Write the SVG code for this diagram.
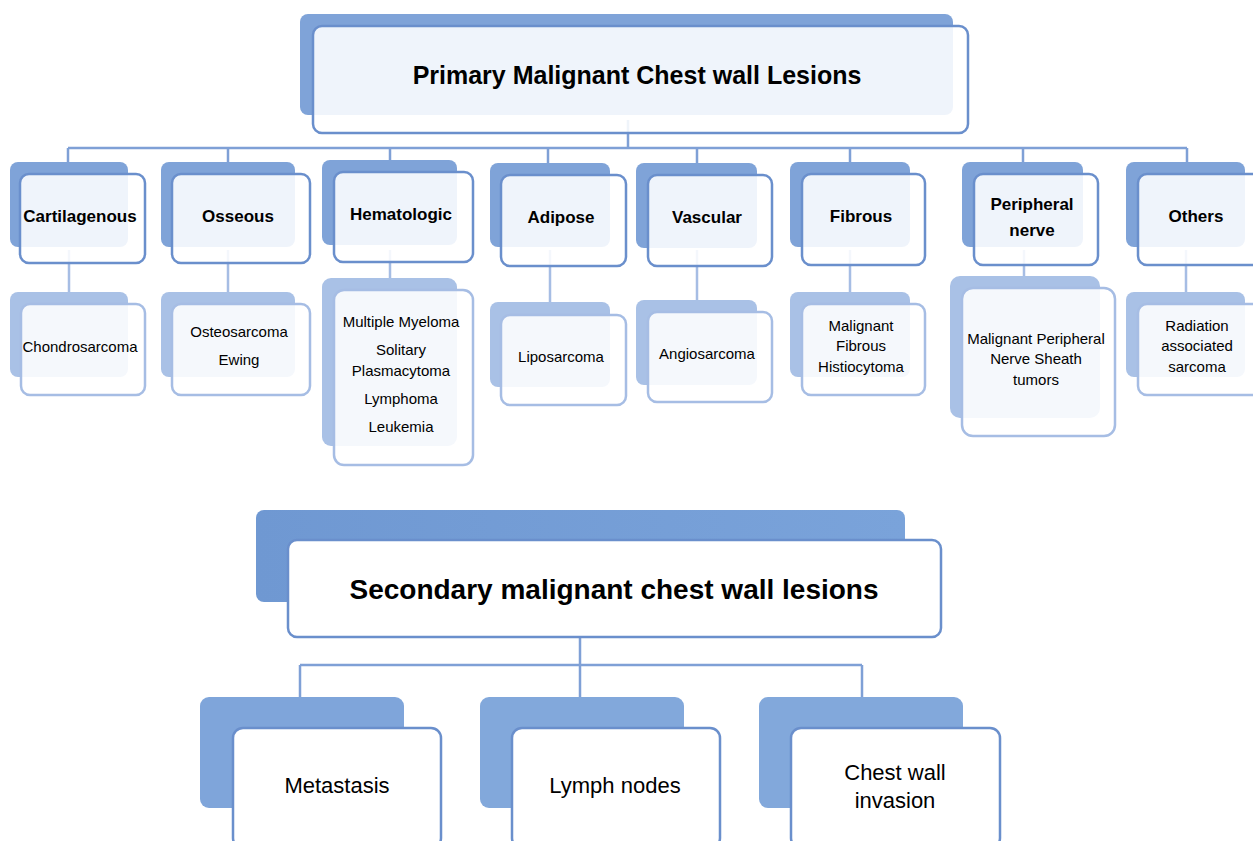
<svg xmlns="http://www.w3.org/2000/svg" width="1253" height="841" viewBox="0 0 1253 841">
<style>
.sh{fill:#7fa3d8}
.shl{fill:#a9c1e6}
.fr{fill:#ffffff;fill-opacity:0.88;stroke:#6a8fcc;stroke-width:2.5}
.frl{fill:#ffffff;fill-opacity:0.88;stroke:#a6bde4;stroke-width:2.5}
.fro{fill:#ffffff;stroke:#6a8fcc;stroke-width:2.5}
.cn{fill:none;stroke:#7fa0d6;stroke-width:2.5}
.cnl{fill:none;stroke:#a6bde4;stroke-width:2.5}
text{font-family:"Liberation Sans",Arial,sans-serif;fill:#000;text-anchor:middle}
.t1{font-size:25px;font-weight:bold}
.t2{font-size:28px;font-weight:bold}
.c{font-size:17px;font-weight:bold}
.l{font-size:15px}
.b{font-size:22px}
</style>
<defs>
<linearGradient id="g2" x1="0" y1="0" x2="1" y2="0">
<stop offset="0" stop-color="#6f98d2"/>
<stop offset="1" stop-color="#7aa3da"/>
</linearGradient>
</defs>
<rect width="1253" height="841" fill="#ffffff"/>
<g id="connectors">
<path class="cn" d="M628 120V148M68 148H1187M68 148V163M228 148V163M390 148V162M548 148V164M697 148V164M850 148V163M1023 148V163M1187 148V163"/>
<path class="cnl" d="M69 250V293M228 250V293M390 250V279M550 250V303M697 250V301M850 250V293M1024 250V277M1186 250V293"/>
<path class="cn" d="M580 630V665M300 665H862M300 665V698M580 665V698M862 665V698"/>
</g>
<g id="primary">
<rect class="sh" x="300" y="14" width="653" height="101" rx="8"/>
<rect class="fr" x="313" y="26" width="655" height="107" rx="9"/>
<text class="t1" x="637" y="84">Primary Malignant Chest wall Lesions</text>
</g>
<g id="cartilagenous">
<rect class="sh" x="10" y="162" width="118" height="85" rx="8"/>
<rect class="fr" x="20" y="174" width="125" height="89" rx="9"/>
<text class="c" x="80" y="222">Cartilagenous</text>
</g>
<g id="osseous">
<rect class="sh" x="161" y="162" width="134" height="85" rx="8"/>
<rect class="fr" x="172" y="174" width="138" height="89" rx="9"/>
<text class="c" x="238" y="222">Osseous</text>
</g>
<g id="hematologic">
<rect class="sh" x="322" y="160" width="135" height="85" rx="8"/>
<rect class="fr" x="334" y="172" width="139" height="90" rx="9"/>
<text class="c" x="401" y="220">Hematologic</text>
</g>
<g id="adipose">
<rect class="sh" x="490" y="163" width="120" height="84" rx="8"/>
<rect class="fr" x="501" y="175" width="125" height="91" rx="9"/>
<text class="c" x="561" y="223">Adipose</text>
</g>
<g id="vascular">
<rect class="sh" x="636" y="163" width="121" height="85" rx="8"/>
<rect class="fr" x="648" y="175" width="124" height="91" rx="9"/>
<text class="c" x="707" y="223">Vascular</text>
</g>
<g id="fibrous">
<rect class="sh" x="790" y="162" width="120" height="85" rx="8"/>
<rect class="fr" x="802" y="174" width="123" height="91" rx="9"/>
<text class="c" x="861" y="222">Fibrous</text>
</g>
<g id="peripheral-nerve">
<rect class="sh" x="962" y="162" width="121" height="85" rx="8"/>
<rect class="fr" x="974" y="174" width="124" height="91" rx="9"/>
<text class="c" x="1032" y="210">Peripheral</text>
<text class="c" x="1032" y="236">nerve</text>
</g>
<g id="others">
<rect class="sh" x="1126" y="162" width="119" height="85" rx="8"/>
<rect class="fr" x="1138" y="174" width="125" height="91" rx="9"/>
<text class="c" x="1196" y="222">Others</text>
</g>
<g id="chondrosarcoma">
<rect class="shl" x="10" y="292" width="118" height="85" rx="8"/>
<rect class="frl" x="21" y="304" width="124" height="91" rx="9"/>
<text class="l" x="80" y="352">Chondrosarcoma</text>
</g>
<g id="osteosarcoma">
<rect class="shl" x="161" y="292" width="134" height="85" rx="8"/>
<rect class="frl" x="172" y="304" width="138" height="91" rx="9"/>
<text class="l" x="239" y="337">Osteosarcoma</text>
<text class="l" x="239" y="365">Ewing</text>
</g>
<g id="hematologic-leaf">
<rect class="shl" x="322" y="278" width="135" height="168" rx="9"/>
<rect class="frl" x="334" y="290" width="139" height="175" rx="10"/>
<text class="l" x="401" y="327">Multiple Myeloma</text>
<text class="l" x="401" y="355">Solitary</text>
<text class="l" x="401" y="376">Plasmacytoma</text>
<text class="l" x="401" y="404">Lymphoma</text>
<text class="l" x="401" y="432">Leukemia</text>
</g>
<g id="liposarcoma">
<rect class="shl" x="490" y="302" width="120" height="85" rx="8"/>
<rect class="frl" x="501" y="315" width="125" height="90" rx="9"/>
<text class="l" x="561" y="362">Liposarcoma</text>
</g>
<g id="angiosarcoma">
<rect class="shl" x="636" y="300" width="121" height="85" rx="8"/>
<rect class="frl" x="648" y="312" width="124" height="90" rx="9"/>
<text class="l" x="707" y="359">Angiosarcoma</text>
</g>
<g id="mfh">
<rect class="shl" x="790" y="292" width="120" height="85" rx="8"/>
<rect class="frl" x="802" y="304" width="123" height="91" rx="9"/>
<text class="l" x="861" y="331">Malignant</text>
<text class="l" x="861" y="351">Fibrous</text>
<text class="l" x="861" y="372">Histiocytoma</text>
</g>
<g id="mpnst">
<rect class="shl" x="950" y="276" width="150" height="142" rx="10"/>
<rect class="frl" x="962" y="288" width="153" height="148" rx="11"/>
<text class="l" x="1036" y="344">Malignant Peripheral</text>
<text class="l" x="1036" y="364">Nerve Sheath</text>
<text class="l" x="1036" y="385">tumors</text>
</g>
<g id="radiation">
<rect class="shl" x="1126" y="292" width="119" height="85" rx="8"/>
<rect class="frl" x="1138" y="304" width="125" height="91" rx="9"/>
<text class="l" x="1197" y="331">Radiation</text>
<text class="l" x="1197" y="351">associated</text>
<text class="l" x="1197" y="372">sarcoma</text>
</g>
<g id="secondary">
<rect x="256" y="510" width="649" height="92" rx="8" fill="url(#g2)"/>
<rect class="fro" x="288" y="540" width="653" height="97" rx="9"/>
<text class="t2" x="614" y="599">Secondary malignant chest wall lesions</text>
</g>
<g id="metastasis">
<rect x="200" y="697" width="204" height="111" rx="9" fill="#7fa5da"/>
<rect class="fro" x="233" y="728" width="208" height="120" rx="10"/>
<text class="b" x="337" y="793">Metastasis</text>
</g>
<g id="lymph-nodes">
<rect x="480" y="697" width="204" height="111" rx="9" fill="#82a8db"/>
<rect class="fro" x="512" y="728" width="208" height="120" rx="10"/>
<text class="b" x="615" y="793">Lymph nodes</text>
</g>
<g id="chest-wall-invasion">
<rect x="759" y="697" width="204" height="111" rx="9" fill="#82a8db"/>
<rect class="fro" x="791" y="728" width="209" height="120" rx="10"/>
<text class="b" x="895" y="780">Chest wall</text>
<text class="b" x="895" y="808">invasion</text>
</g>
</svg>
